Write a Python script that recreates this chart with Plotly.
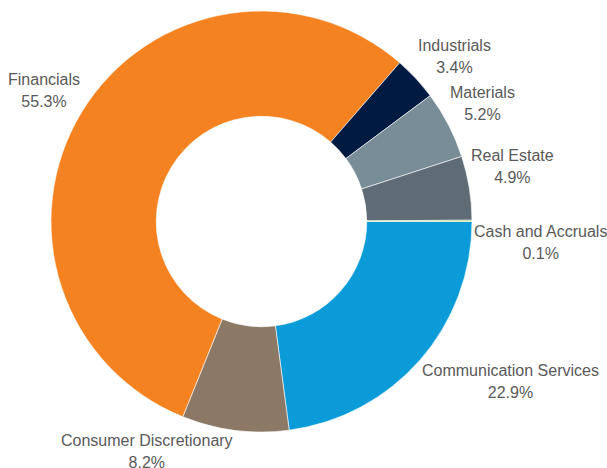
import math
import plotly.graph_objects as go

# sectors in clockwise order starting at 3 o'clock
sectors = ["Communication Services", "Consumer Discretionary", "Financials",
           "Industrials", "Materials", "Real Estate", "Cash and Accruals"]
weights = [22.9, 8.2, 55.3, 3.4, 5.2, 4.9, 0.1]
colors = ["#0A9BD8", "#8B7865", "#F58220", "#001A42", "#798D99", "#5F6B75", "#8DC63F"]

W, H = 607, 468
cx, cy, R = 261.5, 221.5, 210.5   # pie centre / radius in pixels (from top-left)
start = 90

fig = go.Figure(go.Pie(
    labels=sectors,
    values=weights,
    sort=False,
    direction="clockwise",
    rotation=start,
    hole=0.5,
    marker=dict(colors=colors, line=dict(color="white", width=0.6)),
    textinfo="none",
    hoverinfo="label+percent",
    showlegend=False,
    domain=dict(x=[(cx - R) / W, (cx + R) / W], y=[(H - cy - R) / H, (H - cy + R) / H]),
))

# outside-end labels, anchored at the slice's outer edge on its mid angle
total = sum(weights)
acc = 0
for name, v in zip(sectors, weights):
    mid = math.radians(start + (acc + v / 2) / total * 360)
    acc += v
    s, c = math.sin(mid), math.cos(mid)
    fig.add_annotation(
        x=(cx + R * s) / W, y=(H - cy + R * c) / H,
        xref="paper", yref="paper",
        # outer size sets the line gap, inner spans the glyph size
        text=f"<span style='font-size:16px'>{name}</span><br>"
             f"<span style='font-size:16px'>{v:.1f}%</span>",
        showarrow=False, align="center",
        xanchor="left" if s >= 0 else "right",
        yanchor="bottom" if c > 0.02 else "top",
        font=dict(family="Liberation Sans, Arial", size=17, color="#595959"),
    )

fig.update_layout(
    width=W, height=H,
    margin=dict(t=0, b=0, l=0, r=0),
    paper_bgcolor="white",
)
fig.write_html("out.html", config={"displayModeBar": False},
               post_script="document.body.style.margin='0';")
